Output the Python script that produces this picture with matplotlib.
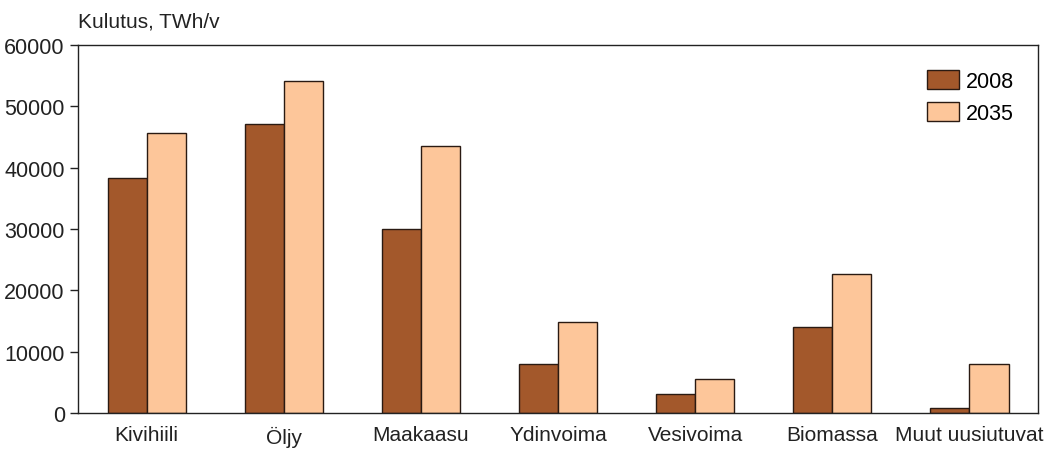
import matplotlib.pyplot as plt
import numpy as np

plt.rcParams['font.family'] = ['Liberation Sans Narrow', 'Liberation Sans', 'DejaVu Sans']

categories = ['Kivihiili', 'Öljy', 'Maakaasu', 'Ydinvoima', 'Vesivoima', 'Biomassa', 'Muut uusiutuvat']
values_2008 = [38300, 47100, 30000, 8000, 3100, 14000, 800]
values_2035 = [45600, 54100, 43500, 14800, 5500, 22600, 8000]

fig = plt.figure(figsize=(10.46, 4.52), dpi=100)
ax = fig.add_axes([0.0746, 0.0841, 0.9178, 0.8139])

x = np.arange(len(categories))
w = 0.285
ax.bar(x - w / 2, values_2008, w, color='#A3582B', edgecolor='#2a1a12', linewidth=1, label='2008')
ax.bar(x + w / 2, values_2035, w, color='#FDC69A', edgecolor='#2a1a12', linewidth=1, label='2035')

ax.set_xlim(-0.5, len(categories) - 0.5)
ax.set_ylim(0, 60000)
ax.set_yticks(range(0, 60001, 10000))
ax.set_xticks(x)
ax.set_xticklabels(categories)
ax.tick_params(axis='x', length=0, labelsize=15, pad=9, colors='#222222')
ax.tick_params(axis='y', length=6, width=1, labelsize=15.5, colors='#222222')
for s in ax.spines.values():
    s.set_linewidth(1)
    s.set_color('#222222')

fig.text(0.0746, 0.93, 'Kulutus, TWh/v', fontsize=15, color='#222222', ha='left', va='bottom')

ax.legend(loc='upper right', bbox_to_anchor=(0.995, 0.985), frameon=False, fontsize=15.5,
          handlelength=1.5, handleheight=1.0, handletextpad=0.3, labelspacing=0.45)

fig.savefig('out.png', dpi=100)
